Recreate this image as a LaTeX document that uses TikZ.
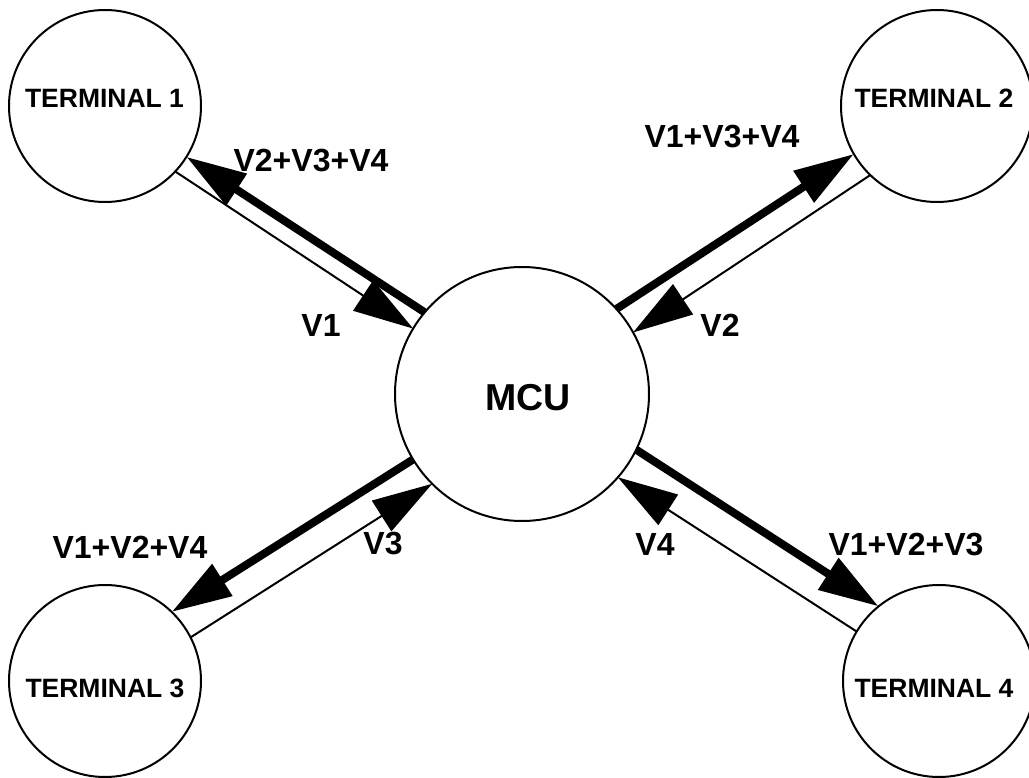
\documentclass[tikz,border=0pt]{standalone}
\usepackage{fontspec}
\setmainfont{Liberation Sans}
\usetikzlibrary{arrows.meta}
\begin{document}
\begin{tikzpicture}[x=1pt,y=-1pt,
  term/.style={circle,draw,line width=2pt,minimum size=192pt,inner sep=0pt,outer sep=0pt},
  mcustyle/.style={circle,draw,line width=2pt,minimum size=254pt,inner sep=0pt,outer sep=0pt},
  ttext/.style={font=\fontsize{26.5}{30}\selectfont\bfseries,inner sep=0pt},
  mtext/.style={font=\fontsize{37.5}{42}\selectfont\bfseries,inner sep=0pt},
  lab/.style={font=\fontsize{32}{36}\selectfont\bfseries,inner sep=0pt},
  thickarr/.style={line width=8pt,-{Triangle[length=60pt,width=36pt]}},
  thinarr/.style={line width=2pt,-{Triangle[length=60pt,width=36pt]}}]
\useasboundingbox (0,0) rectangle (1029,778);
\fill[white] (0,0) rectangle (1029,778);

\node[term] (t1) at (105,106) {};
\node[term] (t2) at (937,106) {};
\node[term] (t3) at (105,681) {};
\node[term] (t4) at (939,681) {};
\node[mcustyle] (mcu) at (522,394) {};

\node[ttext] (t1l) at (104.5,98) {TERMINAL 1};
\node[ttext] (t2l) at (934,98) {TERMINAL 2};
\node[ttext] (t3l) at (105,688) {TERMINAL 3};
\node[ttext] (t4l) at (934,688) {TERMINAL 4};
\node[mtext] (mcul) at (528,398) {MCU};

\draw[thickarr] (mcu.140) -- (t1.-32.9);
\draw[thinarr] (t1.-43.4) -- (mcu.149.5);
\draw[thickarr] (mcu.42.2) -- (t2.-150);
\draw[thinarr] (t2.-134.2) -- (mcu.29.9);
\draw[thickarr] (mcu.-149.5) -- (t3.46.2);
\draw[thinarr] (t3.27.9) -- (mcu.-135.9);
\draw[thickarr] (mcu.-26.6) -- (t4.129.2);
\draw[thinarr] (t4.149.7) -- (mcu.-41.3);

\node[lab] (l1) at (311,161) {V2+V3+V4};
\node[lab] (l2) at (321,325) {V1};
\node[lab] (l3) at (722,137) {V1+V3+V4};
\node[lab] (l4) at (720,325) {V2};
\node[lab] (l5) at (130,547) {V1+V2+V4};
\node[lab] (l6) at (383,544) {V3};
\node[lab] (l7) at (655,544) {V4};
\node[lab] (l8) at (906,545) {V1+V2+V3};
\end{tikzpicture}
\end{document}
